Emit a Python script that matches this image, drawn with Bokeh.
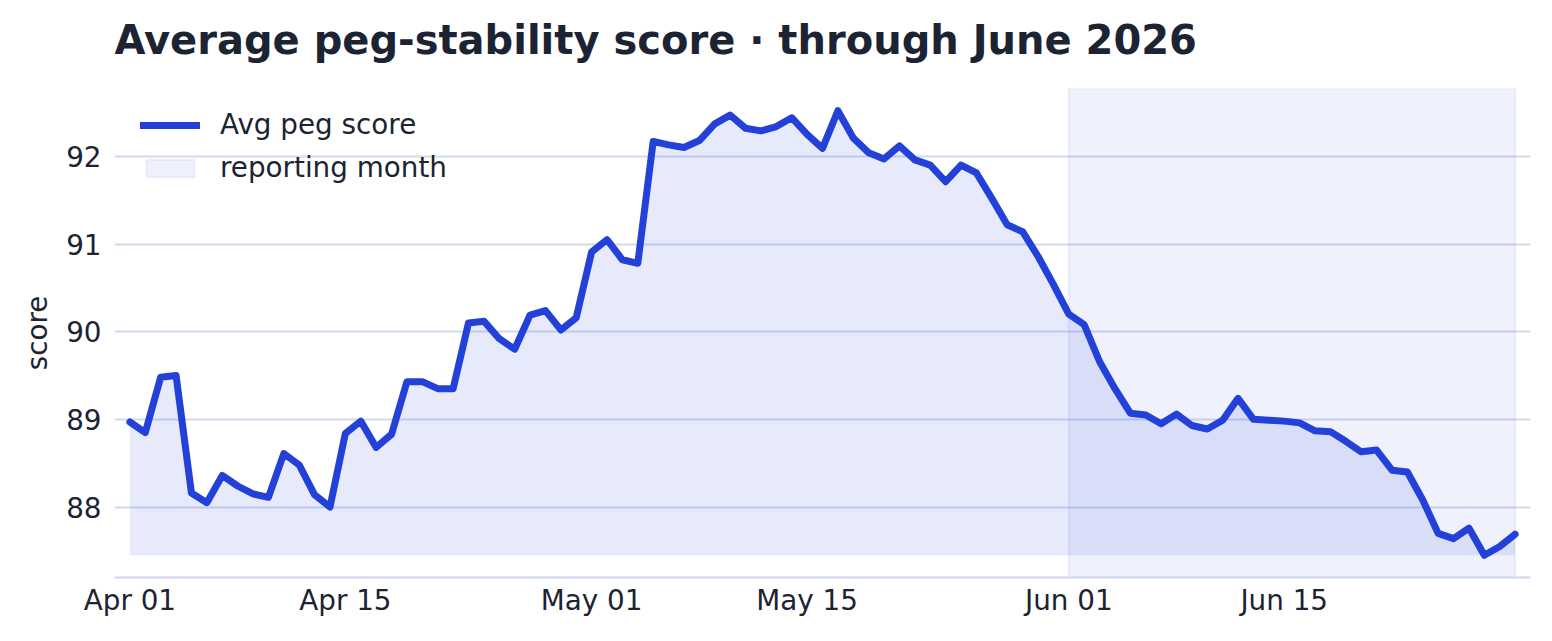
import pandas as pd
from bokeh.plotting import figure
from bokeh.models import (ColumnDataSource, FixedTicker, DatetimeTickFormatter,
                          Range1d, Legend, LegendItem, Title)
from bokeh.embed import file_html
from bokeh.resources import INLINE

# ---- data ----
start_date = "2026-04-01"
end_date = "2026-06-30"
dates = pd.date_range(start_date, end_date, freq="D")
avg_peg_score = [
    88.97, 88.85, 89.48, 89.50, 88.16, 88.05, 88.36, 88.24, 88.15, 88.11,
    88.61, 88.48, 88.14, 88.00, 88.84, 88.98, 88.68, 88.83, 89.43, 89.43,
    89.35, 89.35, 90.10, 90.12, 89.92, 89.80, 90.19, 90.24, 90.02, 90.16,
    90.91, 91.05, 90.82, 90.78, 92.17, 92.13, 92.10, 92.18, 92.37, 92.47,
    92.32, 92.29, 92.34, 92.44, 92.25, 92.09, 92.52, 92.21, 92.04, 91.97,
    92.12, 91.96, 91.90, 91.71, 91.90, 91.81, 91.52, 91.22, 91.14, 90.86,
    90.54, 90.20, 90.08, 89.66, 89.35, 89.07, 89.05, 88.95, 89.06, 88.93,
    88.89, 88.99, 89.24, 89.00, 88.99, 88.98, 88.96, 88.87, 88.86, 88.75,
    88.63, 88.65, 88.42, 88.40, 88.08, 87.70, 87.64, 87.76, 87.45, 87.55,
    87.69,
]
reporting_month = ["2026-06-01", "2026-06-30"]
x_tick_dates = ["2026-04-01", "2026-04-15", "2026-05-01", "2026-05-15",
                "2026-06-01", "2026-06-15"]
y_ticks = [88, 89, 90, 91, 92]

title_text = "Average peg-stability score \u00b7 through June 2026"
line_label = "Avg peg score"
span_label = "reporting month"
y_label = "score"

# ---- style ----
FONT = "DejaVu Sans"
TXT = "#1c2333"
BLUE = "#2340d8"
GRID = "#d3daf0"

base = min(avg_peg_score)
span = max(avg_peg_score) - base
y_lo = base - 0.05 * span
y_hi = max(avg_peg_score) + 0.05 * span
day = pd.Timedelta(days=1)
x_lo = dates[0] - day
x_hi = dates[-1] + day

src = ColumnDataSource(dict(x=dates, y=avg_peg_score, base=[base] * len(dates)))

p = figure(width=1552, height=641, x_axis_type="datetime", title=None,
           x_range=Range1d(x_lo, x_hi), y_range=Range1d(y_lo, y_hi),
           output_backend="svg", toolbar_location=None,
           min_border_left=114, min_border_right=22,
           min_border_top=88, min_border_bottom=64)
p.outline_line_color = None
p.background_fill_color = "white"

# spacer between frame and title, then the title itself
p.add_layout(Title(text=" ", text_font_size="1px", standoff=23), "above")
p.add_layout(Title(text=title_text, text_font=FONT, text_font_size="40px",
                   text_font_style="bold", text_color=TXT, align="left",
                   standoff=0), "above")

# reporting month span
rm = pd.to_datetime(reporting_month)
span_r = p.quad(left=[rm[0]], right=[rm[1]], bottom=[y_lo], top=[y_hi],
                fill_color=BLUE, fill_alpha=0.07,
                line_color=BLUE, line_alpha=0.07, line_width=2)

# area under line
p.varea(x="x", y1="base", y2="y", source=src, fill_color=BLUE, fill_alpha=0.11)

# line
ln = p.line(x="x", y="y", source=src, line_color=BLUE, line_width=7,
            line_join="round", line_cap="round")

# axes
xa = p.xaxis[0]
xa.ticker = FixedTicker(ticks=[pd.Timestamp(d).value / 1e6 for d in x_tick_dates])
fmt = "%b %d"
xa.formatter = DatetimeTickFormatter(days=fmt, months=fmt, years=fmt, hours=fmt,
                                     minutes=fmt, seconds=fmt, milliseconds=fmt,
                                     microseconds=fmt, minsec=fmt, hourmin=fmt)
ya = p.yaxis[0]
ya.ticker = FixedTicker(ticks=y_ticks)
ya.axis_label = y_label

for ax in (xa, ya):
    ax.major_tick_line_color = None
    ax.minor_tick_line_color = None
    ax.major_tick_out = 0
    ax.major_tick_in = 0
    ax.major_label_text_font = FONT
    ax.major_label_text_font_size = "27.8px"
    ax.major_label_text_color = TXT
    ax.axis_label_text_font = FONT
    ax.axis_label_text_font_size = "27.8px"
    ax.axis_label_text_font_style = "normal"
    ax.axis_label_text_color = TXT

xa.axis_line_color = "#cdd5ef"
xa.axis_line_width = 2
xa.major_label_standoff = 6
ya.axis_line_color = None
ya.major_label_standoff = 13
ya.axis_label_standoff = 9

p.xgrid.grid_line_color = None
p.ygrid.grid_line_color = GRID
p.ygrid.grid_line_width = 2

legend = Legend(items=[LegendItem(label=line_label, renderers=[ln]),
                       LegendItem(label=span_label, renderers=[span_r])],
                location=(26, 393))
legend.border_line_color = None
legend.background_fill_alpha = 0
legend.label_text_font = FONT
legend.label_text_font_size = "27.8px"
legend.label_text_color = TXT
legend.glyph_width = 60
legend.glyph_height = 22
legend.label_standoff = 20
legend.spacing = 10
legend.margin = 0
legend.padding = 0
p.add_layout(legend)

open("out.html", "w").write(file_html(p, INLINE))
